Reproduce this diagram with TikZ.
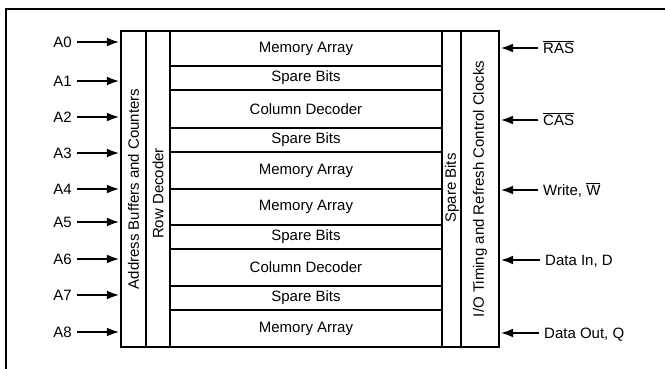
\documentclass[tikz,border=0pt]{standalone}
\usepackage{fontspec}
\setmainfont{Liberation Sans}
\usetikzlibrary{arrows.meta}
\begin{document}
\begin{tikzpicture}[x=1pt,y=-1pt,
  font=\fontsize{15}{18}\selectfont,
  cell/.style={draw, line width=2.4pt, rectangle, inner sep=0pt, anchor=center},
  row/.style={cell, minimum width=272pt},
  col/.style={cell, minimum height=316pt},
  lbl/.style={inner sep=0pt},
  arr/.style={-{Latex[length=13pt,width=9pt]}, line width=2.5pt, shorten <=5pt},
]
\useasboundingbox (0,0) rectangle (665,369);
\draw[line width=1.6pt] (6,369) -- (6,9) -- (665,9);

% array rows
\node[row, minimum height=35pt] (m1) at (306,48.5) {Memory Array};
\node[row, minimum height=24pt] (s1) at (306,78) {Spare Bits};
\node[row, minimum height=38pt] (c1) at (306,109) {Column Decoder};
\node[row, minimum height=24pt] (s2) at (306,140) {Spare Bits};
\node[row, minimum height=37pt] (m2) at (306,170.5) {Memory Array};
\node[row, minimum height=36pt] (m3) at (306,207) {Memory Array};
\node[row, minimum height=24pt] (s3) at (306,237) {Spare Bits};
\node[row, minimum height=37pt] (c2) at (306,267.5) {Column Decoder};
\node[row, minimum height=24pt] (s4) at (306,298) {Spare Bits};
\node[row, minimum height=37pt] (m4) at (306,328.5) {Memory Array};

% columns
\node[col, minimum width=25pt] (addr) at (133.5,189) {};
\node[col, minimum width=24pt] (rowd) at (158,189) {};
\node[col, minimum width=19pt] (spc) at (451.5,189) {};
\node[col, minimum width=38pt] (io) at (480,189) {};

\node[lbl, rotate=90] (addrt) at (133.5,189) {Address Buffers and Counters};
\node[lbl, rotate=90] (rowdt) at (158,193.5) {Row Decoder};
\node[lbl, rotate=90] (spct) at (452,188) {Spare Bits};
\node[lbl, rotate=90] (iot) at (480,189) {I/O Timing and Refresh Control Clocks};

% left inputs
\foreach \n/\yy in {0/42,1/81,2/117,3/153,4/189,5/222,6/259,7/295,8/332}{
  \node[lbl, anchor=base east] (a\n) at (72,\yy+5.4) {A\n};
  \coordinate (pa\n) at ([yshift=5.4pt]a\n.base east);
  \draw[arr] (pa\n) -- (pa\n -| addr.west);
}

% right inputs
\node[lbl, anchor=base west] (ras) at (543,48+5.4) {\(\overline{\mbox{RAS}}\)};
\node[lbl, anchor=base west] (cas) at (543,120+5.4) {\(\overline{\mbox{CAS}}\)};
\node[lbl, anchor=base west] (wr) at (543,190+5.4) {Write, \(\overline{\mbox{W}}\)};
\node[lbl, anchor=base west] (din) at (545,260+5.4) {Data In, D};
\node[lbl, anchor=base west] (dout) at (544,333+5.4) {Data Out, Q};
\foreach \r in {ras,cas,wr,din,dout}{
  \coordinate (p\r) at ([yshift=5.4pt]\r.base west);
  \draw[arr] (p\r) -- (p\r -| io.east);
}
\end{tikzpicture}
\end{document}
